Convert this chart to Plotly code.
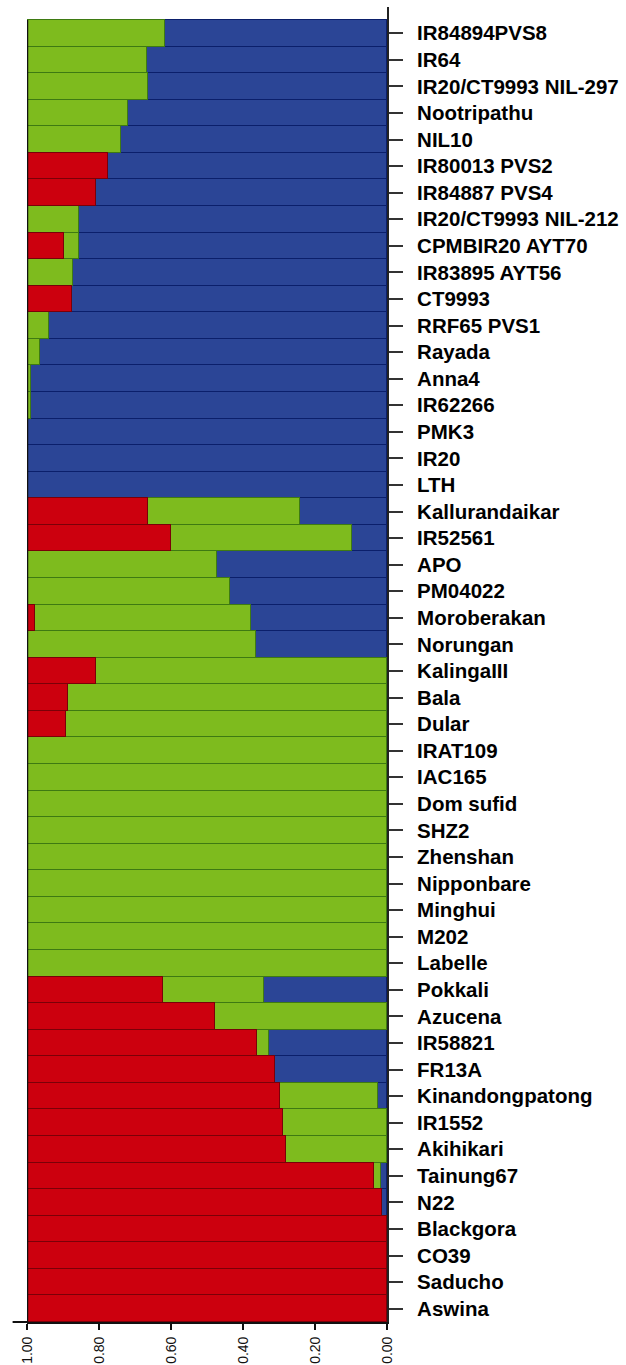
import plotly.graph_objects as go

# Rice accessions, top to bottom
samples = [
    "IR84894PVS8", "IR64", "IR20/CT9993 NIL-297", "Nootripathu", "NIL10",
    "IR80013 PVS2", "IR84887 PVS4", "IR20/CT9993 NIL-212", "CPMBIR20 AYT70",
    "IR83895 AYT56", "CT9993", "RRF65 PVS1", "Rayada", "Anna4", "IR62266",
    "PMK3", "IR20", "LTH", "Kallurandaikar", "IR52561", "APO", "PM04022",
    "Moroberakan", "Norungan", "KalingaIII", "Bala", "Dular", "IRAT109",
    "IAC165", "Dom sufid", "SHZ2", "Zhenshan", "Nipponbare", "Minghui", "M202",
    "Labelle", "Pokkali", "Azucena", "IR58821", "FR13A", "Kinandongpatong",
    "IR1552", "Akihikari", "Tainung67", "N22", "Blackgora", "CO39", "Saducho",
    "Aswina",
]

# Membership coefficients for the three inferred clusters
red = [
    0.000, 0.000, 0.000, 0.000, 0.000, 0.225, 0.191, 0.000, 0.103, 0.000,
    0.124, 0.000, 0.000, 0.000, 0.000, 0.000, 0.000, 0.000, 0.335, 0.400,
    0.000, 0.000, 0.021, 0.000, 0.193, 0.114, 0.107, 0.000, 0.000, 0.000,
    0.000, 0.000, 0.000, 0.000, 0.000, 0.000, 0.379, 0.522, 0.639, 0.689,
    0.703, 0.711, 0.719, 0.963, 0.986, 1.000, 1.000, 1.000, 1.000,
]
green = [
    0.383, 0.333, 0.335, 0.281, 0.261, 0.000, 0.000, 0.145, 0.042, 0.128,
    0.000, 0.061, 0.037, 0.012, 0.012, 0.000, 0.000, 0.000, 0.422, 0.503,
    0.527, 0.565, 0.601, 0.637, 0.807, 0.886, 0.893, 1.000, 1.000, 1.000,
    1.000, 1.000, 1.000, 1.000, 1.000, 1.000, 0.279, 0.478, 0.033, 0.000,
    0.272, 0.289, 0.281, 0.021, 0.000, 0.000, 0.000, 0.000, 0.000,
]
blue = [
    0.617, 0.667, 0.665, 0.719, 0.739, 0.775, 0.809, 0.855, 0.855, 0.872,
    0.876, 0.939, 0.963, 0.988, 0.988, 1.000, 1.000, 1.000, 0.243, 0.097,
    0.473, 0.435, 0.378, 0.363, 0.000, 0.000, 0.000, 0.000, 0.000, 0.000,
    0.000, 0.000, 0.000, 0.000, 0.000, 0.000, 0.342, 0.000, 0.328, 0.311,
    0.025, 0.000, 0.000, 0.016, 0.014, 0.000, 0.000, 0.000, 0.000,
]

x_ticks = [1.0, 0.8, 0.6, 0.4, 0.2, 0.0]

fig = go.Figure()
# stacked from 0 (right) outward: blue, green, red
for vals, fill, edge in [
    (blue, "#2B4596", "#0B1F6B"),
    (green, "#7EBB1E", "#3E7A12"),
    (red, "#CC000E", "#7A0008"),
]:
    fig.add_trace(go.Bar(
        y=samples, x=vals, orientation="h",
        marker=dict(color=fill, line=dict(color=edge, width=1.3)),
        showlegend=False,
    ))

n = len(samples)
fig.update_layout(
    barmode="stack", bargap=0,
    width=626, height=1365,
    margin=dict(l=27, r=239, t=7, b=43),
    plot_bgcolor="white", paper_bgcolor="white",
    xaxis=dict(
        range=[1.0, 0.0], tickvals=x_ticks, tickformat=".2f",
        tickangle=-90, ticks="outside", ticklen=6, tickwidth=2, tickcolor="#111",
        ticklabelstandoff=1,
        showline=True, linecolor="#111", linewidth=2,
        showgrid=False, zeroline=False, automargin=False,
        tickfont=dict(family="Liberation Sans, Arial", size=14, color="#111"),
    ),
    yaxis=dict(
        type="category", categoryorder="array", categoryarray=samples,
        range=[n - 0.5, -0.99], side="right",
        ticks="outside", ticklen=14, tickwidth=1.5, tickcolor="#333",
        ticklabelstandoff=10, automargin=False,
        showline=True, linecolor="#222", linewidth=2,
        showgrid=False, zeroline=False,
        tickfont=dict(family="Liberation Sans, Arial", size=20.5, color="#000",
                      weight="bold"),
    ),
    shapes=[
        # dark edge along the 1.00 side of the bars
        dict(type="line", xref="x", yref="y", x0=1.0, x1=1.0,
             y0=-0.5, y1=n - 0.5, line=dict(color="#111", width=2.5)),
        # short stub of the baseline beyond 1.00
        dict(type="line", xref="paper", yref="paper", x0=-0.04, x1=0.0,
             y0=0, y1=0, line=dict(color="#111", width=2)),
    ],
)

fig.write_html("out.html")
